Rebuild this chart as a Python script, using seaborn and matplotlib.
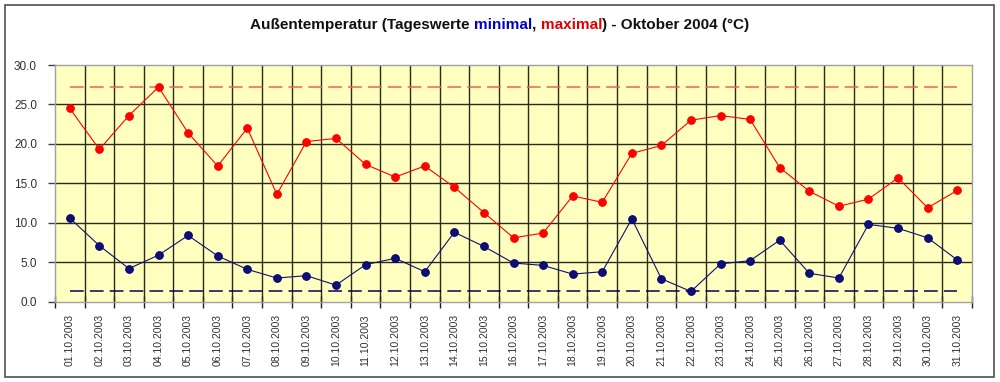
import numpy as np
import pandas as pd
import matplotlib
matplotlib.use("Agg")
import matplotlib.pyplot as plt
from matplotlib.patches import Rectangle
import seaborn as sns

sns.set_style("ticks")
plt.rcParams['font.family'] = ['Liberation Sans', 'DejaVu Sans']

# --- data ---
days = [f"{d:02d}.10.2003" for d in range(1, 32)]
t_max = [24.5, 19.3, 23.6, 27.2, 21.4, 17.2, 22.0, 13.6, 20.3, 20.7,
         17.4, 15.8, 17.2, 14.5, 11.3, 8.1, 8.7, 13.4, 12.6, 18.8,
         19.8, 23.0, 23.6, 23.1, 17.0, 14.0, 12.1, 13.0, 15.7, 11.9, 14.1]
t_min = [10.6, 7.1, 4.2, 5.9, 8.4, 5.8, 4.1, 3.0, 3.3, 2.1,
         4.7, 5.5, 3.8, 8.8, 7.0, 4.9, 4.6, 3.5, 3.8, 10.5,
         2.9, 1.3, 4.8, 5.2, 7.8, 3.6, 3.0, 9.8, 9.3, 8.1, 5.3]
y_ticks = [0, 5, 10, 15, 20, 25, 30]

df = pd.DataFrame({"pos": np.arange(len(days)), "day": days,
                   "max": t_max, "min": t_min})

fig = plt.figure(figsize=(10, 3.82), dpi=100)
ax = fig.add_axes([0.055, 0.2102, 0.917, 0.6196])
ax.set_facecolor("#FFFFC0")

# outer frame of the chart
fig.patches.append(Rectangle((0.005, 0.012), 0.989, 0.976, transform=fig.transFigure,
                             fill=False, edgecolor="#505050", linewidth=1.2))

# grid
grid_col = "#2a2a1a"
for y in y_ticks[1:-1]:
    ax.axhline(y, color=grid_col, linewidth=1, zorder=1)
for x in np.arange(len(days) - 1) + 0.5:
    ax.axvline(x, color=grid_col, linewidth=1, zorder=1)

# min / max reference lines
ax.hlines(max(t_max), df["pos"].iloc[0], df["pos"].iloc[-1], colors="#F06050",
          linestyles=(0, (9, 4)), linewidth=1.1, zorder=2)
ax.hlines(min(t_min), df["pos"].iloc[0], df["pos"].iloc[-1], colors="#000060",
          linestyles=(0, (9, 4)), linewidth=1.1, zorder=2)

sns.lineplot(data=df, x="pos", y="max", ax=ax, color="#FF0000", linewidth=0.8,
             marker="o", markersize=5.5, markeredgecolor="#FF0000", zorder=3)
sns.lineplot(data=df, x="pos", y="min", ax=ax, color="#101070", linewidth=0.8,
             marker="o", markersize=5.5, markeredgecolor="#000080", zorder=3)

ax.set_xlim(-0.5, len(days) - 0.5)
ax.set_ylim(0, 30)
ax.set_yticks(y_ticks)
ax.set_yticklabels([f"{v:.1f}" for v in y_ticks], fontsize=8.5, color="#303030")
ax.set_xticks(df["pos"])
ax.set_xticklabels(days, rotation=90, fontsize=7.5, color="#303030")
ax.set_xticks(np.arange(len(days) + 1) - 0.5, minor=True)
ax.tick_params(axis="x", which="major", length=0, pad=9)
ax.tick_params(axis="x", which="minor", length=8, direction="inout", color="#202020", width=1)
ax.tick_params(axis="y", length=5, color="#404040", width=1, pad=8)
ax.set_xlabel("")
ax.set_ylabel("")
for s in ax.spines.values():
    s.set_color("#A0A0A0")
    s.set_linewidth(1)

# multi-coloured title
parts = [("Außentemperatur (Tageswerte ", "#111111"), ("minimal", "#0000CC"),
         (", ", "#111111"), ("maximal", "#DD0000"), (") - Oktober 2004 (°C)", "#111111")]
fig.canvas.draw()
renderer = fig.canvas.get_renderer()
texts = []
for s, c in parts:
    t = fig.text(0, 0.935, s, color=c, fontsize=11, fontweight="bold", va="center", ha="left")
    texts.append(t)
widths = [t.get_window_extent(renderer).width for t in texts]
total = sum(widths)
x0 = (fig.bbox.width - total) / 2
for t, w in zip(texts, widths):
    t.set_x(x0 / fig.bbox.width)
    x0 += w

fig.savefig("out.png", dpi=100)
